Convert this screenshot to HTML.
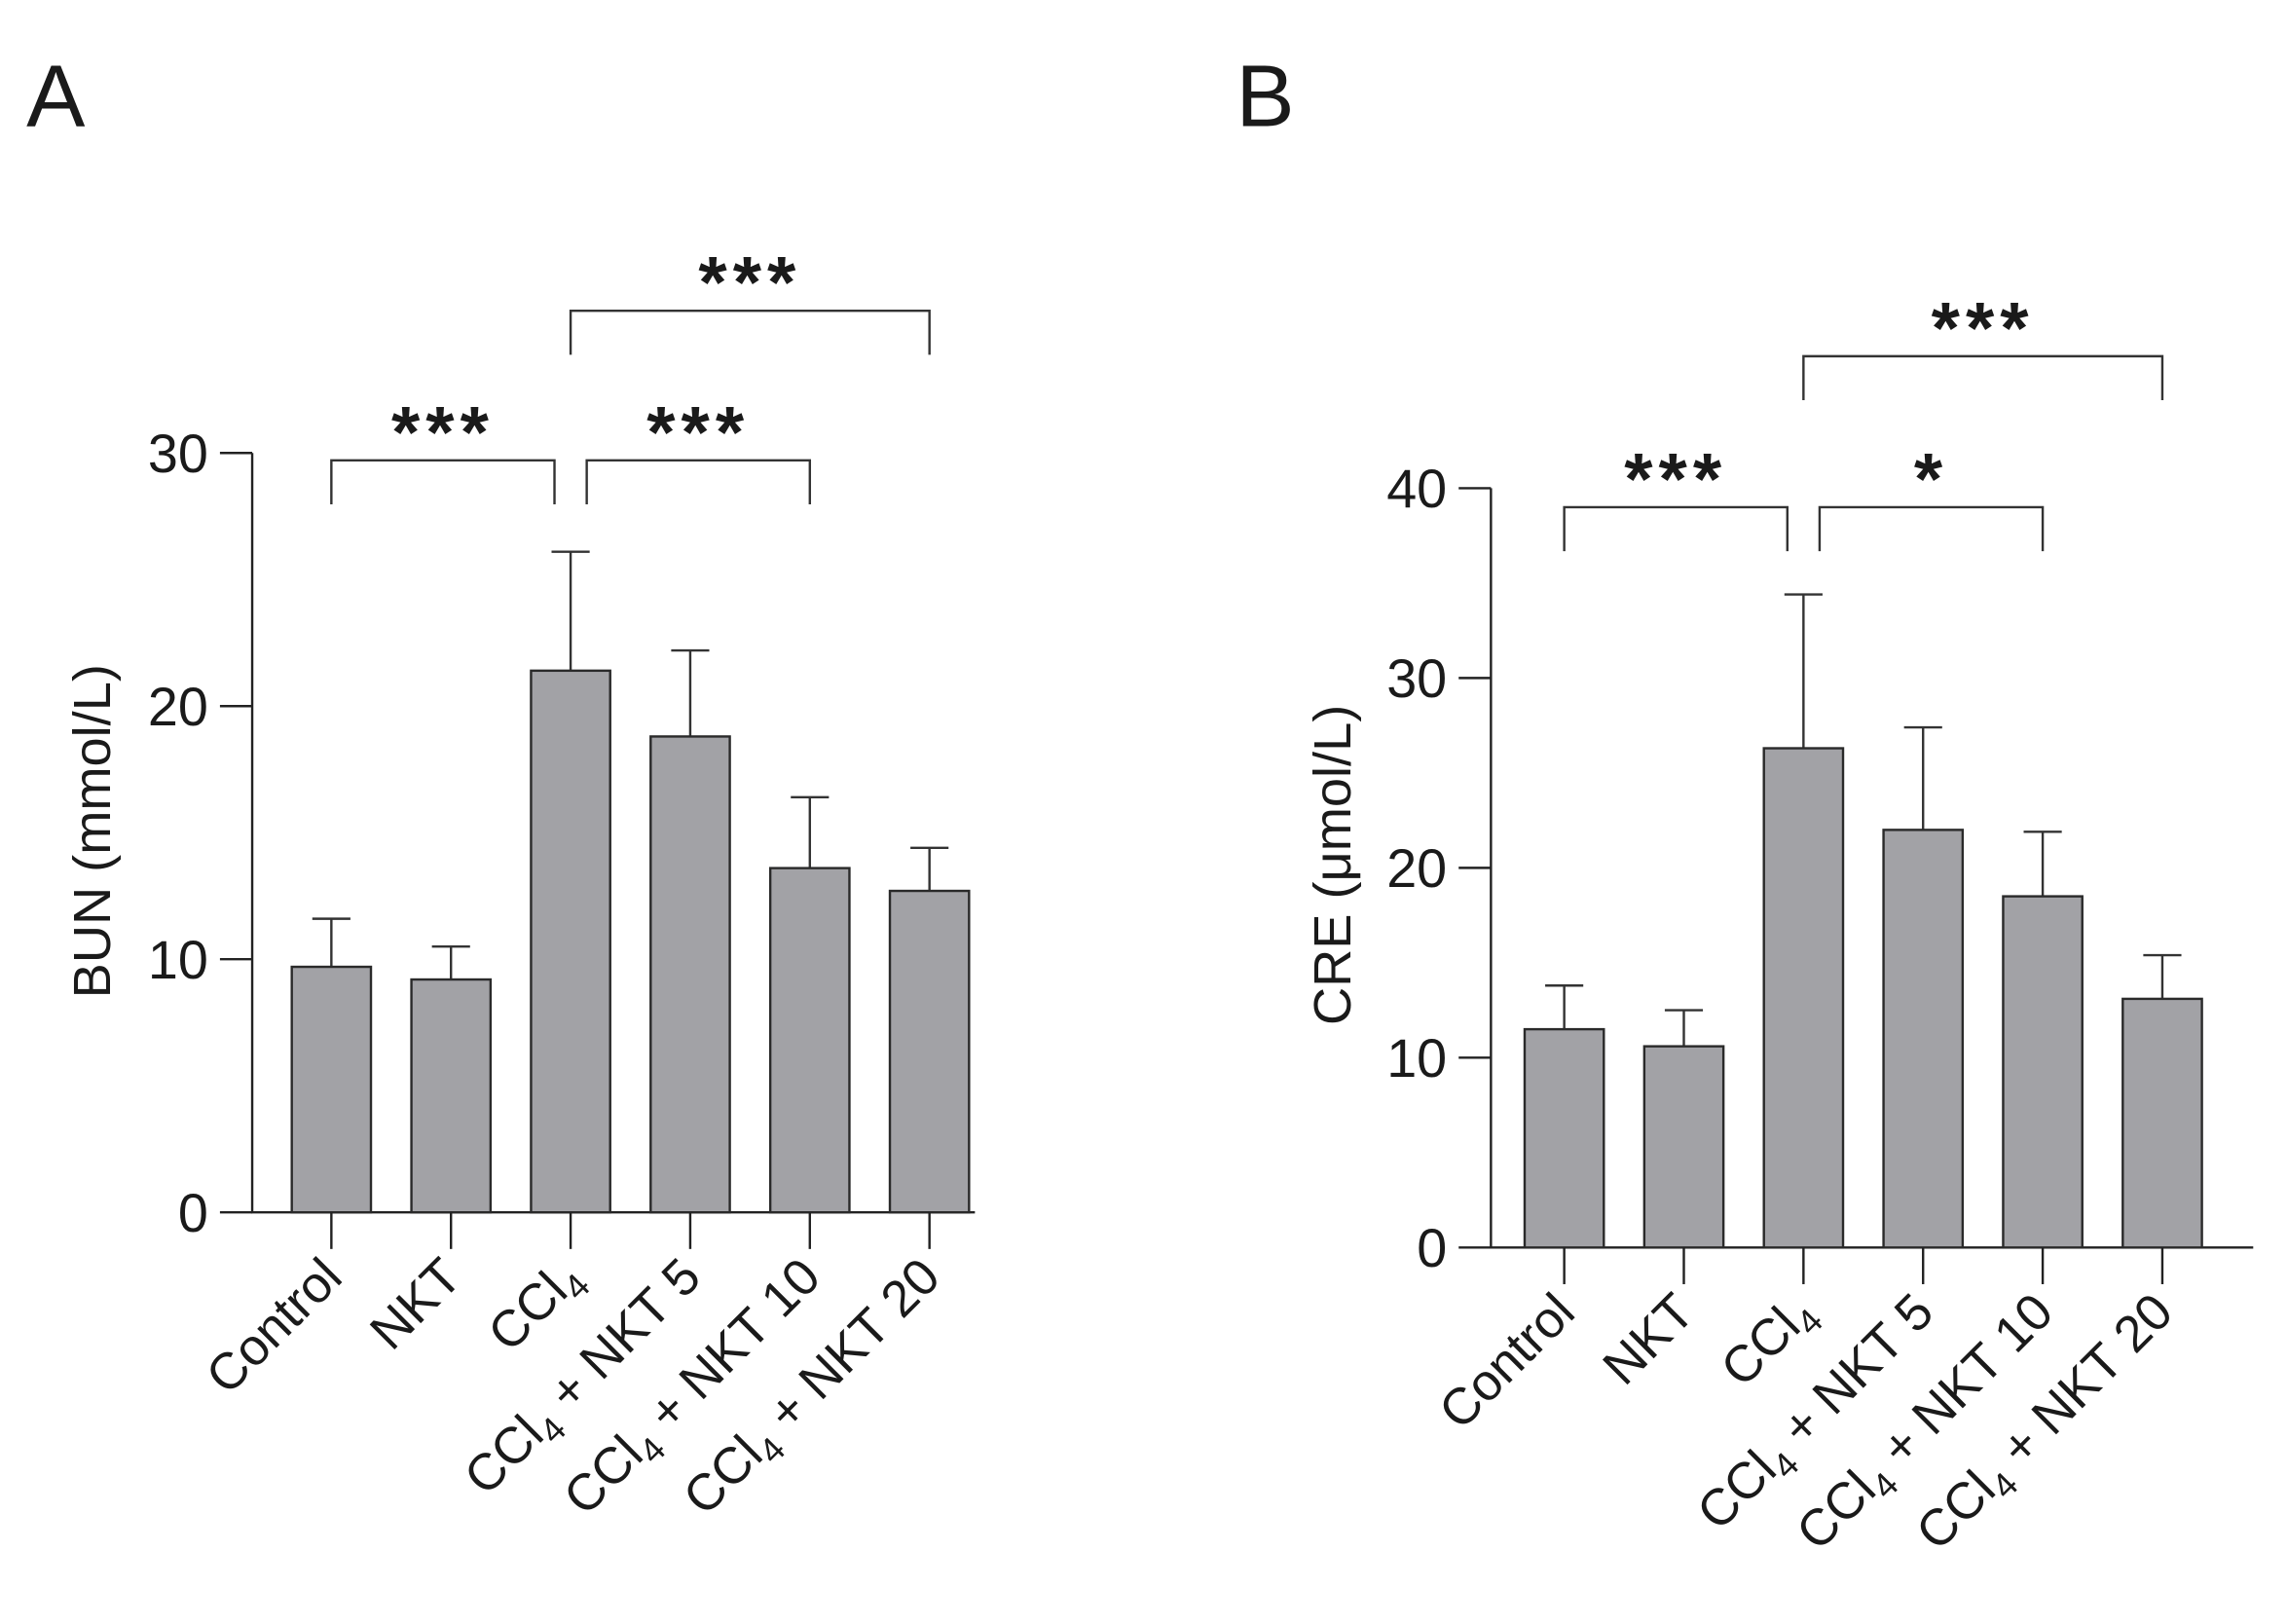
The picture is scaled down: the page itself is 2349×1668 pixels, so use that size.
<!DOCTYPE html>
<html><head><meta charset="utf-8"><style>
html,body{margin:0;padding:0;background:#fff}
svg{display:block}
text{font-family:"Liberation Sans",Arial,sans-serif;fill:#1a1a1a}
</style></head><body>
<svg id="fig" width="2349" height="1668" viewBox="0 0 1560 1107.8" xmlns="http://www.w3.org/2000/svg">
<text x="18" y="86" font-size="60">A</text>
<text x="843" y="86" font-size="60">B</text>
</svg>
<script>
const categories = ["Control","NKT","CCl4","CCl4 + NKT 5","CCl4 + NKT 10","CCl4 + NKT 20"];
const bunValues = [9.7, 9.2, 21.4, 18.8, 13.6, 12.7];
const bunErrors = [1.9, 1.3, 4.7, 3.4, 2.8, 1.7];
const bunTicks = [0, 10, 20, 30];
const creValues = [11.5, 10.6, 26.3, 22.0, 18.5, 13.1];
const creErrors = [2.3, 1.9, 8.1, 5.4, 3.4, 2.3];
const creTicks = [0, 10, 20, 30, 40];
const bunSig = [[0,2,"***"],[2,4,"***"],[2,5,"***"]];
const creSig = [[0,2,"***"],[2,4,"*"],[2,5,"***"]];

const NS = "http://www.w3.org/2000/svg";
const svg = document.getElementById('fig');
function mk(tag, attrs, parent){
  const e = document.createElementNS(NS, tag);
  for (const k in attrs) e.setAttribute(k, attrs[k]);
  (parent||svg).appendChild(e); return e;
}
function chart(o){
  const g = mk('g', {});
  
  
  const yMax = o.ticks[o.ticks.length-1];
  const y = v => o.y0 - (v / yMax) * (o.y0 - o.yTop);
  const x = i => o.x0 + o.first + i * o.step;
  const ax = mk('path', {d:`M${o.x0} ${o.yTop}V${o.y0}H${o.xEnd}`, stroke:'#222', 'stroke-width':1.6, fill:'none'}, g);
  
  
  o.ticks.forEach(t => {
    mk('line', {x1:o.x0-22, x2:o.x0, y1:y(t), y2:y(t), stroke:'#222','stroke-width':1.6}, g);
    const tl = mk('text', {x:o.x0-30, y:y(t)+13, 'font-size':37, 'text-anchor':'end'}, g);
    tl.textContent = t;
    
    
  });
  const yl = mk('text', {x:0, y:0, 'font-size':36, 'text-anchor':'middle', transform:`translate(${o.ylx},${o.yly}) rotate(-90)`}, g);
  yl.textContent = o.ylabel;
  
  
  o.values.forEach((v, i) => {
    const cx = x(i), hw = 27;
    mk('line', {x1:cx, x2:cx, y1:y(v), y2:y(v+o.errors[i]), stroke:'#333','stroke-width':1.6}, g);
    mk('line', {x1:cx-13, x2:cx+13, y1:y(v+o.errors[i]), y2:y(v+o.errors[i]), stroke:'#333','stroke-width':1.6}, g);
    const b = mk('rect', {x:cx-hw, y:y(v), width:hw*2, height:o.y0-y(v), fill:'#a2a2a6', stroke:'#2a2a2a','stroke-width':1.6}, g);
    
    
    mk('line', {x1:cx, x2:cx, y1:o.y0, y2:o.y0+25, stroke:'#222','stroke-width':1.6}, g);
    const c = categories[i];
    const lab = mk('text', {x:0, y:0, 'font-size':35, 'text-anchor':'end', transform:`translate(${cx+9},${o.y0+46}) rotate(-45)`}, g);
    
    
    if (c.startsWith('CCl4')) {
      const a = mk('tspan', {}, lab); a.textContent = 'CCl';
      const s = mk('tspan', {'font-size':24, dy:8}, lab); s.textContent = '4';
      const rest = c.slice(4);
      if (rest) { const r = mk('tspan', {dy:-8}, lab); r.textContent = rest; }
    } else lab.textContent = c;
  });
  o.sig.forEach((s, k) => {
    const by = o.levels[k];
    const xa = x(s[0]) + (k===1 ? 11 : 0);
    const xb = x(s[1]) - (k===0 ? 11 : 0);
    const br = mk('path', {d:`M${xa} ${by+30}V${by}H${xb}V${by+30}`, stroke:'#333','stroke-width':1.6, fill:'none'}, g);
    
    
    const st = mk('text', {x:(xa+xb)/2, y:by-2, 'font-size':50, 'font-weight':'bold', 'letter-spacing':4, 'text-anchor':'middle'}, g);
    st.textContent = s[2];
    
    
  });
}
chart({name:'bun-chart', x0:172, xEnd:665, y0:827, yTop:309, first:54, step:81.6, ticks:bunTicks, values:bunValues, errors:bunErrors, ylabel:'BUN (mmol/L)', ylx:75, yly:567, sig:bunSig, levels:[314,314,212]});
chart({name:'cre-chart', x0:1017, xEnd:1537, y0:851, yTop:333, first:50, step:81.6, ticks:creTicks, values:creValues, errors:creErrors, ylabel:'CRE (\u03bcmol/L)', ylx:921, yly:590, sig:creSig, levels:[346,346,243]});
</script>
</body></html>
